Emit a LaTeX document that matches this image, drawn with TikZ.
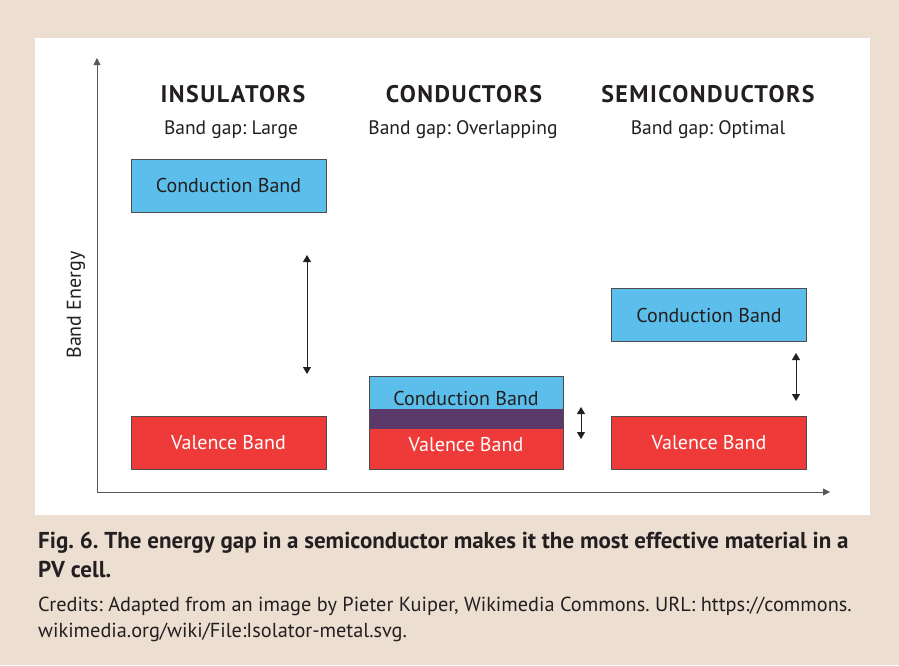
\documentclass[tikz,border=0pt]{standalone}
\usepackage{fontspec}
\setmainfont{PT Sans}
\newfontfamily\titlefont[LetterSpace=6]{PT Sans}
\newfontfamily\capfont{PT Sans}
\usetikzlibrary{arrows.meta}
\definecolor{paper}{HTML}{ECDFD1}
\definecolor{cbblue}{HTML}{5CBFEB}
\definecolor{vbred}{HTML}{EF3A3A}
\definecolor{overlap}{HTML}{5B3A6B}
\definecolor{ink}{HTML}{231F20}
\frenchspacing
\begin{document}
\begin{tikzpicture}[x=1pt, y=-1pt,
        band/.style={draw=ink!80, line width=0.8pt, minimum width=195pt, minimum height=53pt, inner sep=0pt, font=\fontsize{20}{20}\selectfont},
        cband/.style={band, fill=cbblue, text=ink},
        vband/.style={band, fill=vbred, text=white},
        heading/.style={font=\fontsize{24}{24}\titlefont\bfseries, text=ink},
        gaptext/.style={font=\fontsize{19.5}{19.5}\selectfont, text=ink},
        bandtext/.style={font=\fontsize{20}{20}\selectfont, text=ink},
        axis/.style={draw=ink!75, line width=0.8pt, -{Triangle[length=7pt, width=7pt]}},
        gap/.style={draw=ink, line width=0.8pt, {Triangle[length=7pt, width=8pt]}-{Triangle[length=7pt, width=8pt]}},
    ]
    \fill[paper] (0,0) rectangle (899,665);
    \fill[white] (35,38) rectangle (870,515);
    \useasboundingbox (0,0) rectangle (899,665);

    % axes
    \coordinate (origin) at (97,492);
    \coordinate (ytop) at (97,58);
    \coordinate (xend) at (830,492);
    \draw[axis] (origin) -- (ytop);
    \draw[axis] (origin) -- (xend);
    \node[bandtext, rotate=90] (energy) at (76,305) {Band\ Energy};

    % headings
    \node[heading] (hins) at (233,94) {INSULATORS};
    \node[heading] (hcon) at (464,94) {CONDUCTORS};
    \node[heading] (hsem) at (708,94) {SEMICONDUCTORS};
    \node[gaptext] (gins) at (231,130) {Band gap: Large};
    \node[gaptext] (gcon) at (463,130) {Band gap: Overlapping};
    \node[gaptext] (gsem) at (708,130) {Band gap: Optimal};

    % insulators
    \node[cband] (icb) at (228.5,185.5) {Conduction Band};
    \node[vband] (ivb) at (228.5,443) {Valence Band};
    \coordinate (ia) at (307,255);
    \coordinate (ib) at (307,374);
    \draw[gap] (ia) -- (ib);

    % conductors
    \fill[cbblue] (369,376) rectangle (563,409);
    \fill[overlap] (369,409) rectangle (563,429);
    \fill[vbred] (369,429) rectangle (563,469);
    \draw[ink!80, line width=0.8pt] (369,376) rectangle (563,469);
    \node[bandtext] (ccb) at (466,398) {Conduction Band};
    \node[bandtext, text=white] (cvb) at (466,445) {Valence Band};
    \coordinate (ca) at (581,407);
    \coordinate (cb) at (581,439);
    \draw[gap] (ca) -- (cb);

    % semiconductors
    \node[cband] (scb) at (709,315) {Conduction Band};
    \node[vband] (svb) at (709,443) {Valence Band};
    \coordinate (sa) at (796,353);
    \coordinate (sb) at (796,401);
    \draw[gap] (sa) -- (sb);

    % caption
    \node[anchor=west, inner sep=0pt, text=ink, font=\fontsize{23}{23}\capfont\bfseries] (cap1) at (38,543) {Fig. 6. The energy gap in a semiconductor makes it the most effective material in a};
    \node[anchor=west, inner sep=0pt, text=ink, font=\fontsize{23}{23}\capfont\bfseries] (cap2) at (38,569) {PV cell.};
    \node[anchor=west, inner sep=0pt, text=ink, font=\fontsize{20.3}{20.3}\capfont] (cred1) at (38,606) {Credits: Adapted from an image by Pieter Kuiper, Wikimedia Commons. URL: https://commons.};
    \node[anchor=west, inner sep=0pt, text=ink, font=\fontsize{20.3}{20.3}\capfont] (cred2) at (38,632) {wikimedia.org/wiki/File:Isolator-metal.svg.};
\end{tikzpicture}
\end{document}
